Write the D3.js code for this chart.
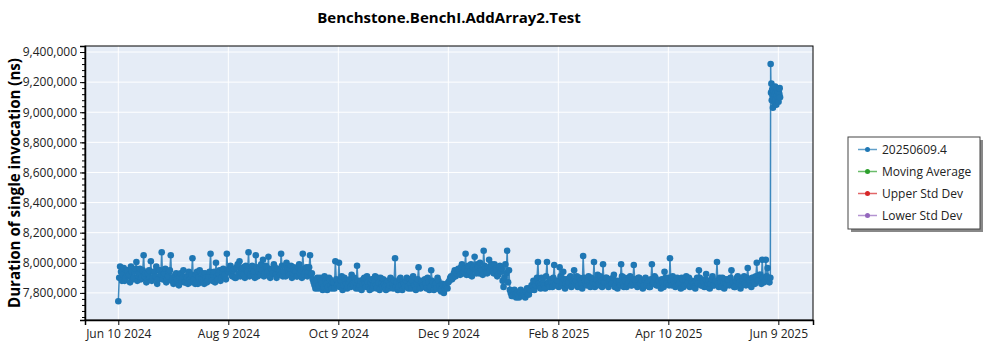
<!DOCTYPE html>
<meta charset="utf-8">
<head>
<title>Benchstone.BenchI.AddArray2.Test</title>
<script src="https://cdn.jsdelivr.net/npm/d3@7"></script>
<style>
body { margin:0; background:white; }
text { font-family:"Open Sans",sans-serif; }
</style>
</head>
<body>
<svg id=mySVG width=1000 height=350></svg>
<script>
//---chart values (thousands of ns)----
var legendNames=["20250609.4","Moving Average","Upper Std Dev","Lower Std Dev"]
var legendColors=["#1f77b4","#2ca02c","#d62728","#9467bd"]

// midnight runs, Jun 10 2024 .. Jun 5 2025
var dailyValues=[
7745,7975,7880,7965,7900,7950,7920,7975,7890,7940,
8005,7910,7960,7900,8050,7930,7880,7950,8010,7900,
7940,7975,7890,7950,8070,7920,7960,7890,7940,8050,
7900,7870,7930,7860,7910,7880,7950,7870,7900,7940,
7870,8030,7890,7920,7860,7950,7890,7880,7930,7870,
7910,8060,7880,7940,8000,7890,7950,7900,7960,7920,
8060,
7940,7980,7910,7960,7900,7990,8010,7930,7970,7900,
7950,8070,7920,7980,7940,8050,7910,7960,7990,8020,
7930,7970,8040,7900,7950,7990,7920,7960,7940,8060,
7910,7980,8000,7930,7960,7900,7970,7940,7910,7990,
7950,8060,7920,7970,7940,8050,7930,
7870,7830,7900,7850,7880,7820,7910,7860,7840,7890,
7830,7870,8010,7850,8000,7880,7820,7900,7860,7840,
7890,7920,7850,7870,7980,7830,7880,7860,7900,7840,
7870,7820,7890,7850,7910,7830,7870,7900,7840,7860,
7820,7880,7850,7890,7830,8030,7870,7840,7900,7820,
7860,7880,7840,7890,7830,7910,7850,7870,7970,7830,
7880,7840,7860,7900,7820,7950,7870,7850,7830,7880,
7820,7860,7800,7850,7830,
7880,7910,7900,7950,7930,7960,7920,7990,7940,8060,
7950,7920,7990,7960,8040,7930,7970,8000,7950,8080,
7960,7930,8020,7970,7940,7990,7950,7920,7980,7960,
7840,7990,8080,7950,
7800,7780,7820,7770,7790,7810,7780,7800,7770,7830,7790,7820,
7850,7820,7880,8005,7840,7900,7860,7830,8005,7870,
7890,7840,7985,7860,7880,7970,7850,7940,7830,7890,
7870,7910,7850,7950,7880,7840,7900,7860,8045,7880,
7850,7910,7840,7890,8005,7860,7920,7850,7880,7990,
7870,7900,7840,7890,7860,7920,7850,7830,7880,7990,
7860,7900,7840,7870,7910,7850,7985,7880,7840,7900,
7860,7830,7890,7850,7880,7840,7990,7870,7900,7850,
7880,7830,7870,7940,7860,7900,8030,7850,7880,7840,
7900,7860,7830,7890,7850,7910,7870,7840,7880,7860,
7830,7900,7950,7850,7880,7840,7925,7860,7830,7890,
7850,7880,8005,7840,7870,7900,7830,7860,7890,7850,
7950,7870,7840,7900,7860,7830,7880,7910,7850,7965,
7870,7840,7900,7860,8000,7880,7920,8020,7870,8020,
7965,7870
]
// midday runs, same days
var noonValues=[
7900,7940,7920,7880,7950,7910,7870,7940,7900,7960,
7880,7930,7890,7950,7910,7870,7930,7900,7880,7940,
7910,7860,7950,7920,7890,7930,7870,7910,7950,7880,
7860,7920,7890,7850,7930,7900,7870,7910,7860,7890,
7920,7880,7860,7940,7900,7870,7930,7860,7900,7880,
7940,7890,7920,7870,7910,7930,7880,7940,7910,7890,
7950,
7960,7920,7950,7900,7970,7930,7910,7960,7920,7980,
7940,7910,7960,7930,7900,7970,7940,7920,7950,7910,
7980,7940,7910,7960,7930,7970,7900,7950,7920,7980,
7940,7910,7960,7920,7980,7930,7950,7910,7970,7930,
7900,7960,7940,7910,7970,7920,7890,
7850,7880,7830,7900,7860,7840,7880,7820,7900,7850,
7870,7830,7890,7860,7840,7910,7850,7880,7830,7870,
7840,7860,7900,7830,7880,7850,7820,7890,7860,7910,
7840,7870,7830,7880,7850,7900,7820,7860,7890,7840,
7870,7830,7900,7860,7880,7840,7820,7890,7850,7870,
7840,7900,7830,7860,7880,7850,7820,7890,7840,7870,
7850,7890,7830,7870,7840,7880,7820,7860,7900,7840,
7810,7850,7830,7860,7870,
7900,7890,7930,7910,7950,7940,7970,7930,7960,7920,
7980,7940,7910,7970,7950,7990,7930,7960,7920,7980,
7940,7970,7950,7990,7930,7960,7910,7970,7940,7880,
7900,7930,7870,7820,
7780,7810,7790,7800,7770,7820,7790,7780,7810,7790,7830,7850,
7880,7850,7900,7860,7830,7880,7850,7910,7860,7840,
7870,7900,7850,7880,7840,7910,7870,7890,7860,7850,
7900,7840,7880,7870,7910,7850,7880,7830,7900,7860,
7880,7850,7900,7870,7840,7890,7860,7910,7840,7870,
7900,7850,7880,7860,7900,7840,7880,7870,7850,7910,
7840,7880,7860,7900,7850,7870,7890,7850,7900,7860,
7880,7850,7900,7870,7840,7890,7860,7910,7850,7880,
7850,7890,7840,7900,7870,7850,7880,7910,7860,7890,
7850,7870,7900,7840,7880,7860,7900,7850,7870,7840,
7880,7860,7900,7850,7870,7890,7840,7880,7860,7910,
7850,7880,7860,7900,7840,7870,7890,7850,7880,7900,
7860,7840,7880,7910,7870,7850,7890,7860,7900,7880,
7850,7900,7870,7910,7880,7920,7860,7900,7880,7910,
7890,7900
]
// runs every 5 hours from Jun 5 2025 16:00
var lateValues=[9320,9130,9190,9080,9150,9110,9030,9160,9100,9140,9060,9120,9170,
9090,9130,9050,9110,9150,9080,9140,9100,9070,9130,9120,9160,9100]

var xTickDates=["2024-06-10T00:00","2024-08-09T19:41","2024-10-09T15:22",
"2024-12-09T11:02","2025-02-08T06:43","2025-04-10T02:24","2025-06-09T22:05"]
var yTicks=[7800000,8000000,8200000,8400000,8600000,8800000,9000000,9200000,9400000]

function drawChart()
{
  //---build points----
  var dayStart=new Date(2024,5,10)
  var points=[]
  dailyValues.forEach(function(v,i){
    var day=d3.timeDay.offset(dayStart,i)
    points.push({date:day,value:v*1000})
    points.push({date:d3.timeHour.offset(day,12),value:noonValues[i]*1000})
  })
  lateValues.forEach(function(v,i){
    points.push({date:d3.timeHour.offset(new Date(2025,5,5,16),5*i),value:v*1000})
  })

  var pLeft=85,pRight=813,pTop=46,pBottom=320
  var svg=d3.select("#mySVG")

  var x=d3.scaleTime()
    .domain([new Date(2024,4,22,14),new Date(2025,5,29,2)])
    .range([pLeft,pRight])
  var y=d3.scaleLinear()
    .domain([7620000,9440000])
    .range([pBottom,pTop])

  //---plot background---
  svg.append("rect")
    .attr("x",pLeft).attr("y",pTop)
    .attr("width",pRight-pLeft).attr("height",pBottom-pTop)
    .attr("fill","#e5ecf6")

  var tickDates=xTickDates.map(function(s){return new Date(s)})

  //---grid---
  svg.append("g").selectAll("line").data(tickDates).enter().append("line")
    .attr("x1",function(d){return x(d)}).attr("x2",function(d){return x(d)})
    .attr("y1",pTop).attr("y2",pBottom)
    .attr("stroke","white").attr("stroke-width",1)
  svg.append("g").selectAll("line").data(yTicks).enter().append("line")
    .attr("y1",function(d){return y(d)}).attr("y2",function(d){return y(d)})
    .attr("x1",pLeft).attr("x2",pRight)
    .attr("stroke","white").attr("stroke-width",1)

  //---series---
  var line=d3.line()
    .x(function(d){return x(d.date)})
    .y(function(d){return y(d.value)})
  svg.append("path")
    .datum(points)
    .attr("fill","none")
    .attr("stroke","#1f77b4")
    .attr("stroke-opacity",0.85)
    .attr("stroke-width",1.5)
    .attr("d",line)
  svg.append("g").selectAll("circle").data(points).enter().append("circle")
    .attr("cx",function(d){return x(d.date)})
    .attr("cy",function(d){return y(d.value)})
    .attr("r",3.3)
    .attr("fill","#1f77b4")

  //---border---
  svg.append("rect")
    .attr("x",pLeft).attr("y",pTop)
    .attr("width",pRight-pLeft).attr("height",pBottom-pTop)
    .attr("fill","none").attr("stroke","black").attr("stroke-width",1)

  //---axes---
  var xAxis=svg.append("g")
    .attr("transform","translate(0,"+pBottom+")")
    .call(d3.axisBottom(x).tickValues(tickDates).tickFormat(d3.timeFormat("%b %-d %Y")).tickSize(5).tickPadding(4))
  xAxis.select(".domain").attr("stroke-width",1.5)
  xAxis.selectAll("text").attr("font-size",12).attr("fill","#222").style("font-family","Open Sans")

  var minorTicks=d3.range(7640000,9440000,40000)
  svg.append("g")
    .attr("transform","translate("+pLeft+",0)")
    .call(d3.axisLeft(y).tickValues(minorTicks).tickFormat("").tickSize(3))
    .select(".domain").remove()
  var yAxis=svg.append("g")
    .attr("transform","translate("+pLeft+",0)")
    .call(d3.axisLeft(y).tickValues(yTicks).tickFormat(d3.format(",")).tickSize(5).tickPadding(3))
  yAxis.select(".domain").attr("stroke-width",1.5)
  yAxis.selectAll("text").attr("font-size",12).attr("fill","#222").style("font-family","Open Sans")

  //---title and label---
  svg.append("text")
    .text("Benchstone.BenchI.AddArray2.Test")
    .attr("x",(pLeft+pRight)/2).attr("y",23)
    .attr("text-anchor","middle")
    .attr("font-size",15).attr("font-weight","bold")

  svg.append("text")
    .text("Duration of single invocation (ns)")
    .attr("transform","translate(20,"+(pTop+pBottom)/2+") rotate(-90)")
    .attr("text-anchor","middle")
    .attr("font-size",16).attr("font-weight","bold")
    .attr("textLength",250).attr("lengthAdjust","spacingAndGlyphs")

  //---legend---
  var lg=svg.append("g").attr("transform","translate(848,137)")
  lg.append("rect").attr("x",3).attr("y",3).attr("width",132).attr("height",92).attr("fill","#888")
  lg.append("rect").attr("width",132).attr("height",92).attr("fill","white").attr("stroke","#444").attr("stroke-width",1)
  var items=lg.selectAll(".item").data(legendNames).enter().append("g")
    .attr("transform",function(d,i){return "translate(0,"+(12.5+i*22)+")"})
  items.append("line").attr("x1",10).attr("x2",29)
    .attr("stroke",function(d,i){return legendColors[i]}).attr("stroke-opacity",0.7).attr("stroke-width",1.5)
  items.append("circle").attr("cx",19.5).attr("r",2.5)
    .attr("fill",function(d,i){return legendColors[i]})
  items.append("text").text(function(d){return d})
    .attr("x",34).attr("dy","0.35em")
    .attr("font-size",12).attr("fill","#222")
}
drawChart()
</script>
</body>
